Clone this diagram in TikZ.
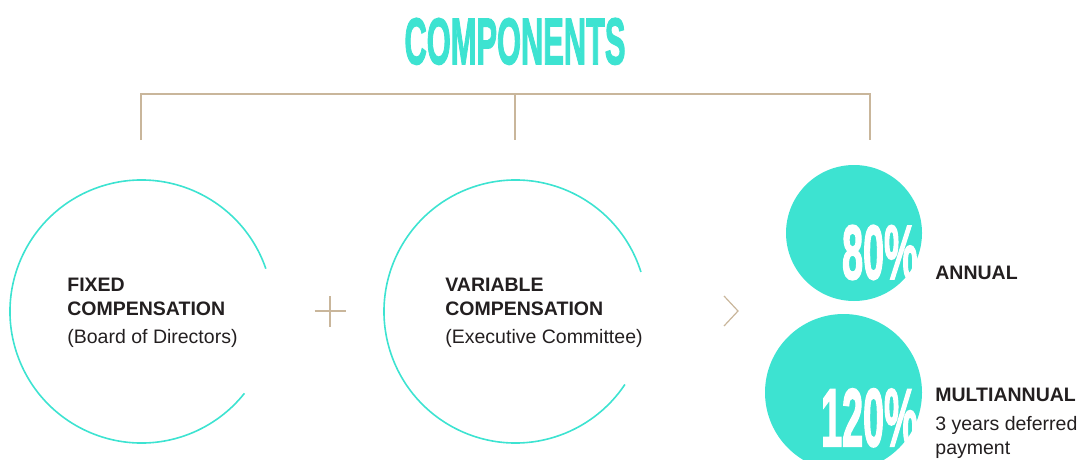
\documentclass[tikz,border=0pt]{standalone}
\usepackage{fontspec}
\setmainfont{Liberation Sans}
\newfontfamily\heavyfont[FakeBold=2.5]{Liberation Sans Bold}
\usepackage{xcolor}
\usetikzlibrary{positioning}

\definecolor{turq}{HTML}{3DE3D1}
\definecolor{sand}{HTML}{C9B69B}
\definecolor{ink}{HTML}{231F20}

\begin{document}
\begin{tikzpicture}[x=1pt, y=1pt, thick,
    ring/.style={draw=turq, line width=1.6pt},
    disc/.style={circle, fill=turq, inner sep=0pt},
    rule/.style={draw=sand, line width=1.4pt},
    pct/.style={text=white, inner sep=0pt, anchor=base east},
    txt/.style={text=ink, inner sep=0pt, align=left, font=\fontsize{19.5}{24}\selectfont}]

    \useasboundingbox (0,0) rectangle (1078,459);

    \node[inner sep=0pt, anchor=base, text=turq] (Title) at (515,395)
    { \scalebox{0.47}[1]{\fontsize{65.6}{70}\heavyfont COMPONENTS} };

    % ---------------------------------------------------------

    \coordinate (Bar) at (515,365);
    \coordinate (Hook1) at (141,319);
    \coordinate (Hook2) at (515,319);
    \coordinate (Hook3) at (870,319);

    \coordinate (Fixed) at (141.5,147.5);
    \coordinate (Var) at (515.5,147.5);

    \node[disc, minimum size=136pt] (Annual) at (854,226) {};
    \node[disc, minimum size=157pt] (Multi) at (843.5,66.5) {};

    \node[pct, font=\fontsize{77}{80}\heavyfont] (P80) at (918,180)
    { \scalebox{0.49}[1]{80\%} };

    \node[pct, font=\fontsize{82}{85}\heavyfont] (P120) at (918,13)
    { \scalebox{0.46}[1]{120\%} };

    \node[txt, anchor=north west] (FixedTxt) at (67,181)
    { \textbf{FIXED}\\ \textbf{COMPENSATION}\\[4pt] (Board of Directors) };

    \node[txt, anchor=north west] (VarTxt) at (445,181)
    { \textbf{VARIABLE}\\ \textbf{COMPENSATION}\\[4pt] (Executive Committee) };

    \node[txt, anchor=base west] (AnnualTxt) at (935,180)
    { \textbf{ANNUAL} };

    \node[txt, anchor=north west] (MultiTxt) at (935,71)
    { \textbf{MULTIANNUAL}\\[5pt] 3 years deferred\\ payment };

    % ---------------------------------------------------------

    \draw[rule] (Hook1) |- (Bar) -| (Hook3);
    \draw[rule] (Bar) -- (Hook2);

    \draw[ring] (Fixed) ++(19:131.5) arc[start angle=19, end angle=321.5, radius=131.5];
    \draw[ring] (Var) ++(17.5:131.5) arc[start angle=17.5, end angle=326.3, radius=131.5];

    \draw[rule, line width=1.2pt] (314.5,148) -- (345.5,148) (330,132.5) -- (330,163.5);
    \draw[rule, line width=1.2pt] (724,163) -- (738,148) -- (724,133);
\end{tikzpicture}
\end{document}
